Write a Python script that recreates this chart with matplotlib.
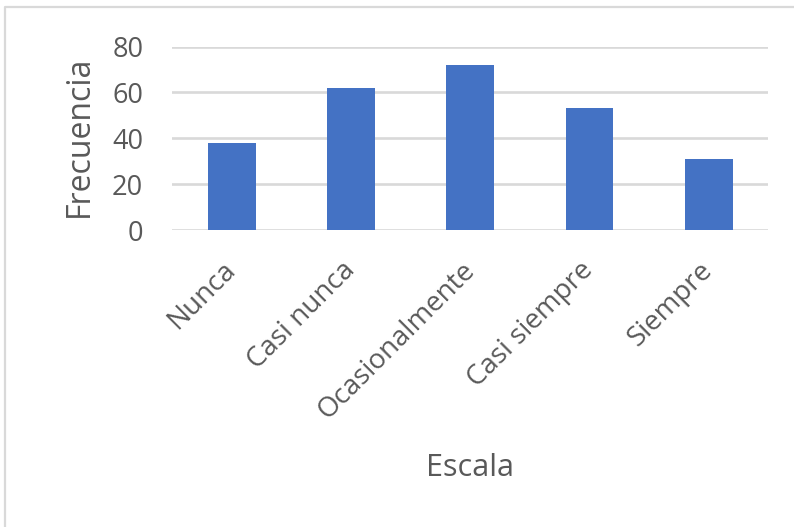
import matplotlib
matplotlib.use("Agg")
import matplotlib.pyplot as plt
from matplotlib.lines import Line2D

# frecuencia por escala
categorias = ["Nunca", "Casi nunca", "Ocasionalmente", "Casi siempre", "Siempre"]
frecuencias = [38, 62, 72, 53, 31]
yticks = [0, 20, 40, 60, 80]

W, H = 794, 527
txt_color = "#595959"
grid_color = "#d9d9d9"
bar_color = "#4472C4"

plt.rcParams["font.family"] = ["Open Sans", "DejaVu Sans"]

fig = plt.figure(figsize=(W / 100, H / 100), dpi=100)
fig.patch.set_facecolor("white")

# plot area in pixels
left, right, top, bottom = 172.3, 768.3, 46.5, 230.0
ax = fig.add_axes([left / W, 1 - bottom / H, (right - left) / W, (bottom - top) / H])

x = range(len(categorias))
ax.bar(x, frecuencias, width=0.4, color=bar_color, zorder=3)

ax.set_xlim(-0.5, len(categorias) - 0.5)
ax.set_ylim(0, 80)
ax.set_yticks(yticks)
ax.yaxis.grid(True, color=grid_color, linewidth=1.9, zorder=0)
ax.set_axisbelow(True)
for s in ax.spines.values():
    s.set_visible(False)

ax.tick_params(axis="y", length=0, pad=21, labelsize=19.5, labelcolor=txt_color)
ax.tick_params(axis="x", length=0, pad=26, labelsize=20, labelcolor=txt_color)
ax.set_xticks(list(x))
ax.set_xticklabels(categorias, rotation=45, ha="right", va="center",
                   rotation_mode="anchor")

ax.set_xlabel("Escala", fontsize=22, color=txt_color)
ax.xaxis.set_label_coords(0.5, (bottom - 468) / (bottom - top))
ax.xaxis.label.set_va("center")
ax.set_ylabel("Frecuencia", fontsize=23, color=txt_color)
ax.yaxis.set_label_coords((79 - left) / (right - left), (bottom - 136.5) / (bottom - top))
ax.yaxis.label.set_va("center")

# chart frame (only top and left edges fall inside the image)
bx, by = 5.0 / W, 1 - 6.5 / H
fig.add_artist(Line2D([bx, bx, 1.02], [-0.02, by, by], transform=fig.transFigure,
                      color=grid_color, linewidth=1.6))

fig.savefig("out.png", dpi=100, facecolor="white")
